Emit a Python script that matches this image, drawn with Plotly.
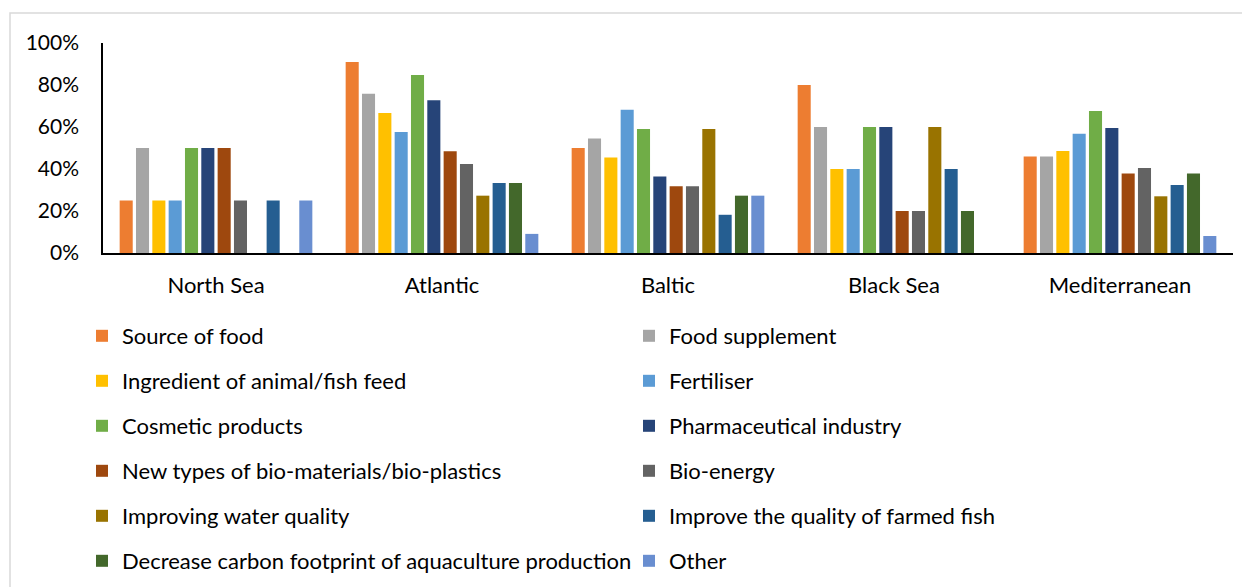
import plotly.graph_objects as go

regions = ["North Sea", "Atlantic", "Baltic", "Black Sea", "Mediterranean"]

uses = [
    "Source of food",
    "Food supplement",
    "Ingredient of animal/fish feed",
    "Fertiliser",
    "Cosmetic products",
    "Pharmaceutical industry",
    "New types of bio-materials/bio-plastics",
    "Bio-energy",
    "Improving water quality",
    "Improve the quality of farmed fish",
    "Decrease carbon footprint of aquaculture production",
    "Other",
]

colors = ["#ED7D31", "#A5A5A5", "#FFC000", "#5B9BD5", "#70AD47", "#264478",
          "#9E480E", "#636363", "#997300", "#255E91", "#43682B", "#698ED0"]

# shares per use, ordered as regions
source_of_food = [0.25, 0.909, 0.500, 0.80, 0.459]
food_supplement = [0.50, 0.758, 0.545, 0.60, 0.459]
animal_feed = [0.25, 0.667, 0.455, 0.40, 0.486]
fertiliser = [0.25, 0.576, 0.682, 0.40, 0.568]
cosmetic = [0.50, 0.848, 0.591, 0.60, 0.676]
pharmaceutical = [0.50, 0.727, 0.364, 0.60, 0.595]
bio_materials = [0.50, 0.485, 0.318, 0.20, 0.378]
bio_energy = [0.25, 0.424, 0.318, 0.20, 0.405]
water_quality = [0.00, 0.273, 0.591, 0.60, 0.270]
farmed_fish = [0.25, 0.333, 0.182, 0.40, 0.324]
carbon_footprint = [0.00, 0.333, 0.273, 0.20, 0.378]
other = [0.25, 0.091, 0.273, 0.00, 0.081]

series = [source_of_food, food_supplement, animal_feed, fertiliser, cosmetic,
          pharmaceutical, bio_materials, bio_energy, water_quality, farmed_fish,
          carbon_footprint, other]

FONT = "Lato"
FS = 22

fig = go.Figure()
for i, (name, vals, col) in enumerate(zip(uses, series, colors)):
    row = i // 2 + 1
    fig.add_trace(go.Bar(
        x=regions, y=vals, name=name,
        marker=dict(color=col, line=dict(width=0)),
        legend="legend" if row == 1 else f"legend{row}",
    ))

OFF = 8  # page offset of the plot div
W, H = 1250 - OFF, 587 - OFF
L, T = 103 - OFF, 43 - OFF
R = W - (1233 - OFF)
B = H - (253 - OFF)
pw, ph = W - L - R, H - T - B

def py(p):  # screen pixel -> paper y
    return (H - B - (p - OFF)) / ph

def px(p):  # screen pixel -> paper x
    return ((p - OFF) - L) / pw

legend_rows = [336, 381, 426, 471, 516, 561]
leg = {}
for r, yc in enumerate(legend_rows):
    key = "legend" if r == 0 else f"legend{r + 1}"
    leg[key] = dict(
        orientation="h", x=px(82), y=py(yc), xanchor="left", yanchor="middle",
        entrywidth=502, entrywidthmode="pixels", itemwidth=30,
        font=dict(family=FONT, size=FS, color="#000000"),
        bgcolor="rgba(0,0,0,0)", borderwidth=0, traceorder="normal",
    )

fig.update_layout(
    width=W, height=H,
    margin=dict(l=L, r=R, t=T, b=B, autoexpand=False),
    paper_bgcolor="white", plot_bgcolor="white",
    barmode="group", bargap=0.133, bargroupgap=0.2,
    font=dict(family=FONT, size=FS, color="#000000"),
    showlegend=True,
    **leg,
)

fig.update_yaxes(
    range=[0, 1], tickvals=[0, 0.2, 0.4, 0.6, 0.8, 1.0], tickformat=".0%",
    showgrid=False, zeroline=False, showline=True, linecolor="#000000", linewidth=1.5,
    ticks="", ticklabelstandoff=18,
    tickfont=dict(family=FONT, size=21, color="#000000"),
)
fig.update_xaxes(
    showgrid=False, showline=True, linecolor="#000000", linewidth=1.5,
    ticks="", ticklabelstandoff=12,
    tickfont=dict(family=FONT, size=FS, color="#000000"),
)

fig.add_shape(type="rect", xref="paper", yref="paper",
              x0=px(10), x1=px(1270), y0=py(600), y1=py(13),
              line=dict(color="#D9D9D9", width=1.5), fillcolor="rgba(0,0,0,0)",
              layer="below")

fig.write_html("out.html")
